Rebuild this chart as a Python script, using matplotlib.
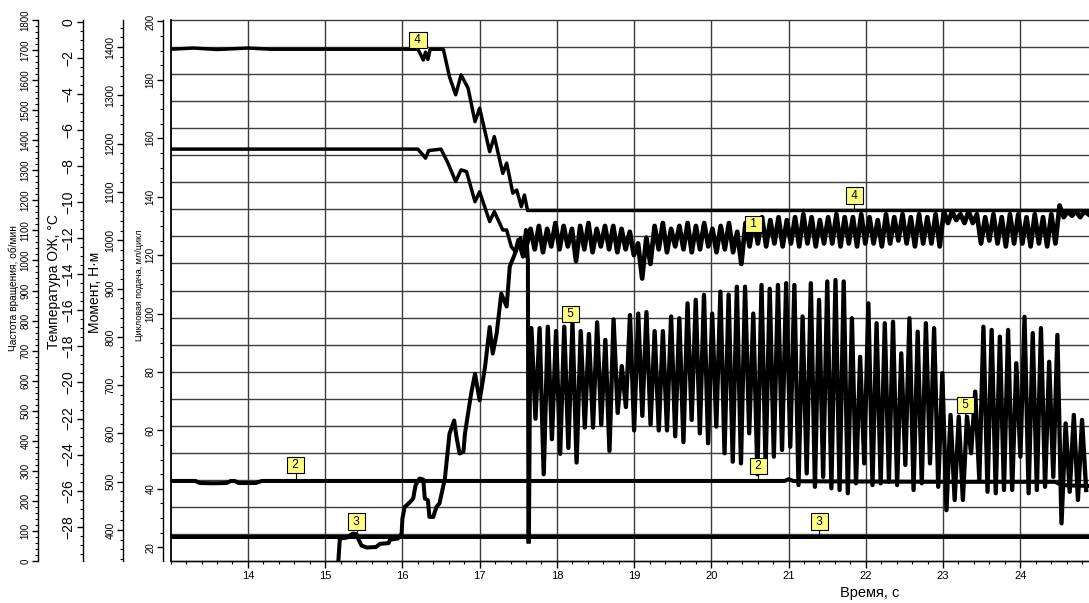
import numpy as np
import matplotlib
matplotlib.use('Agg')
import matplotlib.pyplot as plt
from matplotlib.ticker import MultipleLocator

plt.rcParams['font.family'] = ['Liberation Sans', 'DejaVu Sans']

# ---------------- DATA (all curves in units of the "Цикловая подача" axis) -------------
# Curve 4 (upper)
t4 = [13.0, 13.3, 13.6, 14.0, 14.3, 16.2, 16.24, 16.27, 16.3, 16.33, 16.36, 16.5, 16.53,
      16.61, 16.69, 16.76, 16.85, 16.94, 17.0, 17.13, 17.19, 17.3, 17.35, 17.43, 17.48,
      17.54, 17.58, 17.62, 24.89]
v4 = [190.5, 190.9, 190.4, 190.9, 190.5, 190.5, 188.5, 186.8, 189.5, 187.0, 190.5, 190.5,
      190.5, 181.0, 174.9, 181.7, 177.2, 165.7, 170.3, 155.4, 160.6, 148.0, 151.5, 141.2,
      142.3, 136.6, 140.6, 135.3, 135.3]

# Curve 1 (starts at 156, then oscillating band)
t1_start = [13.0, 16.2, 16.26, 16.3, 16.34, 16.5, 16.59, 16.69, 16.76, 16.83, 16.94, 17.0,
            17.13, 17.19, 17.30, 17.35, 17.41, 17.47, 17.53, 17.58]
v1_start = [156.3, 156.3, 154.5, 153.2, 155.8, 156.3, 151.5, 145.2, 149.2, 148.6, 138.3,
            141.7, 131.5, 134.9, 128.6, 128.6, 122.9, 121.0, 126.0, 120.0]
peaks1 = [129, 130, 129, 131, 130, 129, 130, 131, 129, 130,
          130, 129, 128, 124, 126, 130, 131, 129, 130, 131,
          130, 131, 129, 130, 131, 128, 131, 132, 133, 132,
          133, 132, 133, 134, 133, 132, 133, 134, 133, 133,
          134, 133, 132, 134, 133, 134, 133, 134, 133, 134,
          135, 135, 134, 135, 134, 133, 134, 133, 134, 134,
          133, 134, 133, 134, 137, 135, 135, 135]
troughs1 = [122, 121, 123, 122, 123, 118, 122, 121, 123, 122,
            121, 122, 120, 112, 117, 122, 121, 123, 122, 121,
            122, 123, 121, 122, 121, 117, 123, 124, 123, 124,
            123, 124, 123, 124, 123, 124, 124, 123, 124, 123,
            124, 124, 123, 124, 125, 124, 123, 124, 124, 123,
            131, 132, 131, 131, 124, 125, 124, 123, 124, 124,
            123, 124, 123, 124, 133, 133.5, 133, 134]

# Curve 3 (rising from bottom) and its flat part
t3 = [15.17, 15.19, 15.28, 15.36, 15.40, 15.47, 15.54, 15.66, 15.71, 15.82, 15.84, 15.94,
      15.99, 16.0, 16.03, 16.1, 16.14, 16.17, 16.22, 16.27, 16.29, 16.33, 16.35, 16.40,
      16.44, 16.48, 16.55, 16.61, 16.67, 16.70, 16.74, 16.79, 16.81, 16.89, 16.94, 17.0,
      17.07, 17.13, 17.17, 17.22, 17.28, 17.35, 17.39, 17.45, 17.5, 17.56, 17.6, 17.625,
      17.632]
v3 = [15.0, 23.0, 23.3, 24.7, 24.5, 20.6, 19.9, 20.1, 21.2, 21.4, 22.6, 23.0,
      24.7, 29.8, 33.8, 35.5, 36.7, 41.2, 43.5, 43.2, 36.7, 36.1, 30.4, 30.4,
      33.8, 35.0, 43.5, 58.9, 63.4, 57.8, 52.1, 52.7, 58.9, 72.6, 79.4, 70.3,
      81.7, 95.4, 86.3, 93.1, 106.8, 102.4, 116.1, 120.0, 125.2, 119.5, 128.6, 118.0,
      22.0]
t3_flat = [13.0, 24.89]
v3_flat = [23.4, 23.4]

# Curve 2 (near-constant)
t2 = [13.0, 13.32, 13.38, 13.55, 13.72, 13.78, 13.83, 13.88, 14.1, 14.18, 20.95, 21.0,
      21.06, 21.12, 22.0, 23.0, 24.45, 24.52, 24.6, 24.89]
v2 = [42.7, 42.7, 42.0, 41.9, 42.0, 42.7, 42.7, 42.0, 42.0, 42.7, 42.7, 43.3,
      42.7, 42.6, 42.5, 42.4, 42.4, 41.5, 41.2, 41.0]

# Curve 5 (cyclic feed, strong oscillation)
t5_start = [17.636, 17.655]
v5_start = [22.0, 95.0]
peaks5 = [95, 95, 95.5, 94, 95.5, 96.7, 94, 93, 97, 91, 98, 82, 99.5, 100, 100.5, 94,
          94, 99, 98.4, 103.5, 104.7, 106.4, 100, 107.5, 106.5, 109.2, 109.2, 100, 109.8,
          108.5, 109.8, 110.4, 109.8, 99, 110.4, 104.7, 111, 111.5, 111, 98.4, 85.2, 103.5,
          96.7, 96.7, 97.2, 86.4, 98.4, 93.8, 96.7, 95, 79.6, 65.3, 64.7, 64.7, 73.3, 95.5,
          94.4, 92.1, 94.4, 83, 98.9, 93.3, 95, 83.5, 92.7, 62.4, 65.3, 63.6]
troughs5 = [64, 45, 57, 52, 54, 49, 61, 61, 62, 53, 66, 68, 60, 65, 62, 60,
            60, 58, 56, 63.6, 59, 55.6, 61.3, 52.2, 49.3, 48.7, 59, 45, 48, 51, 53.3, 54.4,
            41.3, 45.3, 40.7, 44.1, 40.2, 39.6, 38.5, 41.9, 48.7, 41.3,
            41.9, 42.4, 41.3, 48.2, 39.6, 41.9, 48.7, 40.7, 32.7, 36.2, 36.2, 52.2, 43, 39,
            38.5, 39.6, 39.6, 51, 38.5, 39.6, 40.7, 44.1, 28.2, 39, 36.2, 39.6]
osc_t0, osc_t1 = 17.67, 24.80   # first and last peak time of the oscillations

# Marker boxes
lab_text = ['4', '4', '1', '5', '5', '2', '2', '3', '3']
lab_t = [16.2, 21.85, 20.55, 18.18, 23.29, 14.62, 20.61, 15.41, 21.4]
lab_v = [193.6, 140.4, 130.7, 99.8, 68.6, 48.2, 47.9, 28.8, 28.8]
lab_anchor = [190.5, 135.3, 130.7, 95.5, 64.0, 42.7, 42.7, 24.7, 23.4]

x_ticks = list(range(14, 25))

# ---------------- FIGURE -----------------
W, H = 1089, 603
fig = plt.figure(figsize=(W / 100, H / 100), dpi=100)
y_top, y_bot = 20.0, 561.0
x_left = 170.7
ax = fig.add_axes([x_left / W, 1 - y_bot / H, 1 - x_left / W, (y_bot - y_top) / H])
ylo, yhi = 15.3, 200.5
ax.set_xlim(13, 24.89)
ax.set_ylim(ylo, yhi)

grid_c = '#3c3c3c'
for i in range(21):
    ax.plot([0, 1], [i / 20, i / 20], transform=ax.transAxes, color=grid_c, lw=1.0,
            zorder=1, clip_on=False if i in (0, 20) else True)
ax.set_xticks(x_ticks)
ax.xaxis.set_minor_locator(MultipleLocator(0.2))
ax.grid(axis='x', color=grid_c, lw=1.0, zorder=1)
ax.set_yticks([])
ax.spines['right'].set_visible(False)
ax.spines['top'].set_visible(False)
ax.spines['left'].set_linewidth(1.3)
ax.spines['bottom'].set_linewidth(1.0)
ax.tick_params(axis='x', which='major', length=5, width=1, labelsize=8, pad=2)
ax.tick_params(axis='x', which='minor', length=2.5, width=0.8)
ax.set_axisbelow(True)

# oscillation time grid
n = len(peaks5)
tp = np.linspace(osc_t0, osc_t1, n)
half = (tp[1] - tp[0]) / 2
t_osc = np.ravel(np.column_stack([tp, tp + half]))
v5_osc = np.ravel(np.column_stack([peaks5, troughs5]))
v1_osc = np.ravel(np.column_stack([peaks1, troughs1]))
tp1 = np.linspace(osc_t0 - 0.01, osc_t1 + 0.03, len(peaks1))
t1_osc = np.ravel(np.column_stack([tp1, tp1 + half]))

lw = 2.9
ax.plot(t3_flat, v3_flat, color='black', lw=2.9, zorder=3)
ax.plot(t2, v2, color='black', lw=2.9, zorder=3)
ax.plot(t4, v4, color='black', lw=2.5, zorder=3)
ax.plot(list(t1_start), list(v1_start), color='black', lw=2.5, zorder=3)
ax.plot([t1_start[-1]] + list(t1_osc), [v1_start[-1]] + list(v1_osc), color='black',
        lw=3.4, zorder=3)
ax.plot(t3, v3, color='black', lw=lw, zorder=3)
ax.plot(list(t5_start) + list(t_osc), list(v5_start) + list(v5_osc), color='black',
        lw=3.1, zorder=3)

for s, t, v, a in zip(lab_text, lab_t, lab_v, lab_anchor):
    if abs(v - a) > 0.5:
        ax.plot([t, t], [a, v], color='black', lw=0.8, zorder=4)
    ax.text(t, v, ' ' + s + ' ', ha='center', va='center', fontsize=8.5, zorder=5,
            bbox=dict(boxstyle='square,pad=0.18', fc='#ffff80', ec='black', lw=0.8))

fig.text(870 / W, 1 - 593 / H, 'Время, с', ha='center', va='center', fontsize=10.5)


# ---------------- SIDE AXES -----------------
def side_axis(xpix, lo, hi, ticks, minor, fs, pad=1.0):
    a = fig.add_axes([xpix / W, 1 - y_bot / H, 0.0005, (y_bot - y_top) / H])
    a.set_ylim(lo, hi)
    a.set_xticks([])
    for sname in ['top', 'right', 'bottom']:
        a.spines[sname].set_visible(False)
    a.spines['left'].set_linewidth(1.0)
    a.patch.set_visible(False)
    a.set_yticks(ticks)
    a.yaxis.set_minor_locator(MultipleLocator(minor))
    a.tick_params(axis='y', which='major', length=4.5, width=1, labelsize=fs,
                  labelrotation=90, pad=pad)
    a.tick_params(axis='y', which='minor', length=2.2, width=0.8)
    for lab in a.get_yticklabels():
        lab.set_va('center')
    return a


side_axis(163, ylo, yhi, list(range(20, 201, 20)), 5, 7)
side_axis(123, 336, 1456, list(range(400, 1401, 100)), 20, 7.5)
side_axis(83, -29.9, 0.1, list(range(-28, 1, 2)), 0.5, 10)
side_axis(38, 0, 1800, list(range(0, 1801, 100)), 20, 7)

fig.text(14 / W, 1 - 288 / H, 'Частота вращения, об/мин', rotation=90, ha='center',
         va='center', fontsize=7.3)
fig.text(54 / W, 1 - 282 / H, 'Температура ОЖ, °С', rotation=90, ha='center',
         va='center', fontsize=10)
fig.text(95 / W, 1 - 292 / H, 'Момент, Н·м', rotation=90, ha='center',
         va='center', fontsize=10)
fig.text(140 / W, 1 - 285 / H, 'Цикловая подача, мл/цикл', rotation=90, ha='center',
         va='center', fontsize=6.5)

fig.savefig('out.png', dpi=100)
